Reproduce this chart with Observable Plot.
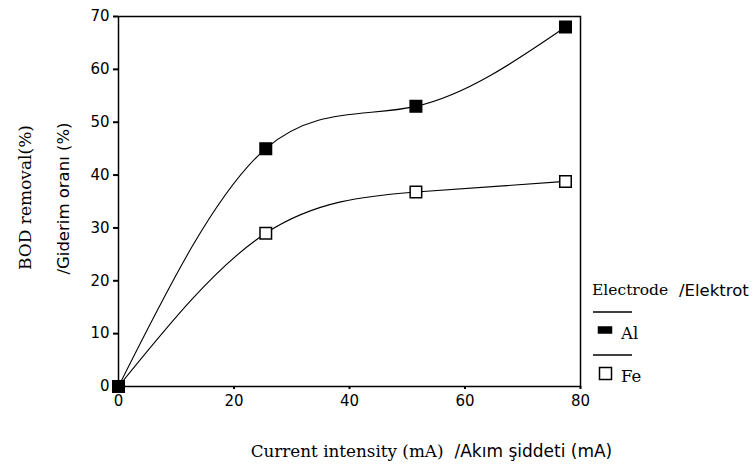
<!DOCTYPE html>
<html><head><meta charset="utf-8">
<script src="https://cdn.jsdelivr.net/npm/d3@7"></script>
<script src="https://cdn.jsdelivr.net/npm/@observablehq/plot@0.6"></script>
<style>
body{margin:0;background:#fff;}
#wrap{position:relative;width:755px;height:471px;}
#legend{position:absolute;left:0;top:0;width:755px;height:471px;pointer-events:none;}
</style></head>
<body><div id="wrap"></div>
<script>
const current = [0, 25.5, 51.5, 77.4];
const alRemoval = [0, 45, 53, 68];
const feRemoval = [0, 29, 36.8, 38.8];
const xTicks = [0, 20, 40, 60, 80];
const yTicks = [0, 10, 20, 30, 40, 50, 60, 70];
const seriesNames = ["Al", "Fe"];

const alData = current.map((x, i) => ({x, y: alRemoval[i], s: "Al"}));
const feData = current.map((x, i) => ({x, y: feRemoval[i], s: "Fe"}));

const serif = "DejaVu Serif, Liberation Serif, serif";
const sans = "DejaVu Sans, sans-serif";

const chart = Plot.plot({
  width: 755, height: 471,
  marginLeft: 118, marginRight: 175, marginTop: 16, marginBottom: 85,
  style: {fontFamily: sans, fontSize: "15px", color: "#000", background: "#fff"},
  x: {domain: [0, 80], ticks: xTicks, tickSize: 3, tickPadding: 6, label: null},
  y: {domain: [0, 70], ticks: yTicks, tickSize: 5, tickPadding: 4, label: null},
  marks: [
    Plot.frame({stroke: "#000", strokeWidth: 1.5}),
    Plot.axisX({ticks: xTicks, tickSize: 3, tickPadding: 6, strokeWidth: 2, fontSize: 15, label: null}),
    Plot.axisY({ticks: yTicks, tickSize: 5, tickPadding: 4, strokeWidth: 2, fontSize: 15, label: null}),
    Plot.line(feData, {x: "x", y: "y", curve: "natural", stroke: "#000", strokeWidth: 1.1}),
    Plot.line(alData, {x: "x", y: "y", curve: "natural", stroke: "#000", strokeWidth: 1.1}),
    Plot.dot(feData, {x: "x", y: "y", symbol: "square", r: 6.5, fill: "#fff", stroke: "#000", strokeWidth: 1.5}),
    Plot.dot(alData, {x: "x", y: "y", symbol: "square", r: 6.5, fill: "#000", stroke: "#000"}),
    Plot.text(["BOD removal(%)"], {frameAnchor: "left", text: d => d, textAnchor: "middle", rotate: -90, dx: -93, dy: -4, fontFamily: serif, fontSize: 17}),
    Plot.text(["/Giderim oranı (%)"], {frameAnchor: "left", text: d => d, textAnchor: "middle", rotate: -90, dx: -55, dy: -3, fontFamily: sans, fontSize: 16.5}),
    Plot.text(["Current intensity (mA)"], {frameAnchor: "bottom", text: d => d, textAnchor: "end", dx: 94, dy: 70, fontFamily: serif, fontSize: 16.8}),
    Plot.text(["/Akım şiddeti (mA)"], {frameAnchor: "bottom", text: d => d, textAnchor: "start", dx: 105, dy: 70, fontFamily: sans, fontSize: 17})
  ]
});
document.getElementById("wrap").appendChild(chart);

// Legend overlay to the right of the plot
const ns = "http://www.w3.org/2000/svg";
const leg = document.createElementNS(ns, "svg");
leg.setAttribute("id", "legend");
leg.setAttribute("width", 755); leg.setAttribute("height", 471);
function t(x, y, s, fam, size){ const e = document.createElementNS(ns, "text"); e.setAttribute("x", x); e.setAttribute("y", y); e.setAttribute("font-family", fam); e.setAttribute("font-size", size); e.setAttribute("dominant-baseline", "middle"); e.textContent = s; leg.appendChild(e); return e; }
function l(x1, y1, x2, y2){ const e = document.createElementNS(ns, "line"); e.setAttribute("x1", x1); e.setAttribute("y1", y1); e.setAttribute("x2", x2); e.setAttribute("y2", y2); e.setAttribute("stroke", "#000"); e.setAttribute("stroke-width", 1.5); leg.appendChild(e); }
function r(x, y, w, h, fill){ const e = document.createElementNS(ns, "rect"); e.setAttribute("x", x); e.setAttribute("y", y); e.setAttribute("width", w); e.setAttribute("height", h); e.setAttribute("fill", fill); e.setAttribute("stroke", "#000"); e.setAttribute("stroke-width", 1.5); leg.appendChild(e); }
t(592, 291, "Electrode", serif, 15.5);
t(679, 291, "/Elektrot", sans, 16.5);
l(593, 312, 632, 312);
r(598.5, 327, 13, 6, "#000");
t(621, 334, seriesNames[0], serif, 16.5);
l(593, 355, 632, 355);
r(599.5, 367.5, 12, 12, "#fff");
t(621, 377, seriesNames[1], serif, 16.5);
document.getElementById("wrap").appendChild(leg);
</script>
</body></html>
